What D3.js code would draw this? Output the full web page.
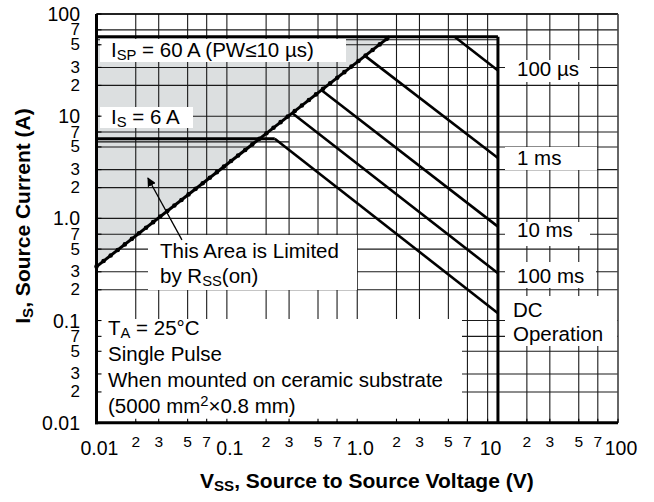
<!DOCTYPE html>
<html lang="en">
<head>
<meta charset="UTF-8">
<title>Safe Operating Area</title>
<script src="https://d3js.org/d3.v7.min.js"></script>
<style>
    body { margin: 0; background: white; }
    svg { display: block; font-family: "Liberation Sans", Arial, sans-serif; }
</style>
</head>
<body>
<script>
    /*------------------- data -------------------*/
    const decades = [0.01, 0.1, 1, 10];
    const minorSteps = [2, 3, 5, 7];
    const majorValues = [0.01, 0.1, 1, 10, 100];
    const majorLabels = ["0.01", "0.1", "1.0", "10", "100"];

    // limit lines (V, A)
    const rssLine = [[0.01, 0.337], [1.77, 60]];
    const ispLine = [[0.01, 60], [12, 60]];
    const isLine = [[0.01, 6], [0.233, 6]];
    const dcVertical = [[12, 60], [12, 0.01]];
    const limitedArea = [[0.01, 60], [1.77, 60], [0.01, 0.337]];
    // thin companion lines just under the 60 A / 6 A limits
    const ispShadow = [[0.01, 56], [12, 56]];
    const isShadow = [[0.01, 5.6], [0.3, 5.6]];

    // pulse-width lines
    const pulseNames = ["100 µs", "1 ms", "10 ms", "100 ms", "DC"];
    const pulseStart = [[5.58, 60], [1.16, 38.5], [0.53, 18], [0.32, 10.6], [0.233, 6]];
    const pulseEnd = [[12, 28], [12, 3.9], [12, 0.83], [12, 0.29], [12, 0.118]];

    // arrow from the note to the shaded area
    const arrowTail = [0.0452, 0.615];
    const arrowTip = [0.0248, 2.48];

    /*------------------- scales -------------------*/
    const W = 654, H = 502;
    const plot = { left: 96.5, right: 618, top: 14, bottom: 422.7 };

    const x = d3.scaleLog().domain([0.01, 100]).range([plot.left, plot.right]);
    const y = d3.scaleLog().domain([0.01, 100]).range([plot.bottom, plot.top]);

    const gridValues = [];
    decades.forEach(d => {
        gridValues.push(d);
        minorSteps.forEach(m => gridValues.push(+(d * m).toPrecision(3)));
    });
    gridValues.push(100);

    const line = d3.line().x(d => x(d[0])).y(d => y(d[1]));

    const svg = d3.select("body").append("svg")
        .attr("width", W)
        .attr("height", H);

    svg.append("defs").append("marker")
        .attr("id", "arrow")
        .attr("viewBox", "0 0 10 10")
        .attr("refX", 9).attr("refY", 5)
        .attr("markerWidth", 9).attr("markerHeight", 9)
        .attr("markerUnits", "userSpaceOnUse")
        .attr("orient", "auto")
        .append("path")
        .attr("d", "M0,0 L10,5 L0,10 Z")
        .attr("fill", "black");

    /*------------------- shaded area -------------------*/
    svg.append("path")
        .attr("d", line(limitedArea) + "Z")
        .attr("fill", "#dcdfe0");

    /*------------------- grid -------------------*/
    svg.append("g").selectAll("line")
        .data(gridValues)
        .enter().append("line")
        .attr("x1", d => x(d)).attr("x2", d => x(d))
        .attr("y1", plot.top).attr("y2", plot.bottom)
        .attr("stroke", "#1a1a1a").attr("stroke-width", 1.1);

    svg.append("g").selectAll("line")
        .data(gridValues)
        .enter().append("line")
        .attr("y1", d => y(d)).attr("y2", d => y(d))
        .attr("x1", plot.left).attr("x2", plot.right)
        .attr("stroke", "#1a1a1a").attr("stroke-width", 1.1);

    [ispShadow, isShadow].forEach(s => {
        svg.append("path").attr("d", line(s))
            .attr("fill", "none").attr("stroke", "#111").attr("stroke-width", 1.2);
    });

    /*------------------- white label boxes -------------------*/
    const boxes = [
        [100, 39, 246, 23],    // ISP
        [100, 107, 93, 21],    // IS
        [148, 235, 209, 55],   // This Area ...
        [97, 319, 365, 102],   // TA block
        [505, 60, 85, 22],     // 100 us
        [505, 147, 92, 23],    // 1 ms
        [505, 222, 85, 24],    // 10 ms
        [505, 262, 91, 26],    // 100 ms
        [505, 296, 112, 50]    // DC Operation
    ];
    svg.append("g").selectAll("rect")
        .data(boxes)
        .enter().append("rect")
        .attr("x", d => d[0]).attr("y", d => d[1])
        .attr("width", d => d[2]).attr("height", d => d[3])
        .attr("fill", "white");

    /*------------------- limit lines -------------------*/
    pulseStart.forEach((s, i) => {
        svg.append("path").attr("d", line([s, pulseEnd[i]]))
            .attr("fill", "none").attr("stroke", "black").attr("stroke-width", 2.6);
    });

    [ispLine, isLine, dcVertical].forEach(s => {
        svg.append("path").attr("d", line(s))
            .attr("fill", "none").attr("stroke", "black").attr("stroke-width", 3);
    });

    svg.append("path").attr("d", line(rssLine))
        .attr("fill", "none").attr("stroke", "black").attr("stroke-width", 3);
    svg.append("path").attr("d", line(rssLine))
        .attr("fill", "none").attr("stroke", "black").attr("stroke-width", 4.6)
        .attr("stroke-linecap", "round").attr("stroke-dasharray", "0 9");

    /*------------------- frame and ticks -------------------*/
    svg.append("line")
        .attr("x1", plot.left).attr("x2", plot.right)
        .attr("y1", plot.top).attr("y2", plot.top)
        .attr("stroke", "black").attr("stroke-width", 1.4);
    svg.append("line")
        .attr("x1", plot.right).attr("x2", plot.right)
        .attr("y1", plot.top).attr("y2", plot.bottom)
        .attr("stroke", "#555").attr("stroke-width", 1.2);

    svg.append("g").selectAll("line")
        .data(gridValues)
        .enter().append("line")
        .attr("x1", plot.left).attr("x2", plot.left + 5)
        .attr("y1", d => y(d)).attr("y2", d => y(d))
        .attr("stroke", "black").attr("stroke-width", 1.1);
    svg.append("g").selectAll("line")
        .data(gridValues)
        .enter().append("line")
        .attr("x1", d => x(d)).attr("x2", d => x(d))
        .attr("y1", plot.bottom).attr("y2", plot.bottom - 4)
        .attr("stroke", "black").attr("stroke-width", 1.1);

    svg.append("line")
        .attr("x1", plot.left).attr("x2", plot.left)
        .attr("y1", plot.top).attr("y2", plot.bottom + 1.5)
        .attr("stroke", "black").attr("stroke-width", 3);
    svg.append("line")
        .attr("x1", plot.left - 1.5).attr("x2", plot.right)
        .attr("y1", plot.bottom).attr("y2", plot.bottom)
        .attr("stroke", "black").attr("stroke-width", 3);

    /*------------------- tick labels -------------------*/
    const minorValues = gridValues.filter(v => !majorValues.includes(v));
    const leading = d => String(Math.round(d / Math.pow(10, Math.floor(Math.log10(d) + 1e-9))));

    svg.append("g").selectAll("text")
        .data(majorValues)
        .enter().append("text")
        .attr("x", 80).attr("y", d => y(d) + 7)
        .attr("text-anchor", "end")
        .attr("font-size", 19.5)
        .text((d, i) => majorLabels[i]);
    svg.append("g").selectAll("text")
        .data(minorValues)
        .enter().append("text")
        .attr("x", 80).attr("y", d => y(d) + 5.5)
        .attr("text-anchor", "end")
        .attr("font-size", 17)
        .text(leading);

    svg.append("g").selectAll("text")
        .data(majorValues)
        .enter().append("text")
        .attr("x", d => x(d) + 3).attr("y", 455)
        .attr("text-anchor", "middle")
        .attr("font-size", 19.5)
        .text((d, i) => majorLabels[i]);
    svg.append("g").selectAll("text")
        .data(minorValues)
        .enter().append("text")
        .attr("x", d => x(d)).attr("y", 446.5)
        .attr("text-anchor", "middle")
        .attr("font-size", 15.5)
        .text(leading);

    /*------------------- annotations -------------------*/
    function label(px, py, parts, size, weight) {
        const t = svg.append("text")
            .attr("x", px).attr("y", py)
            .attr("font-size", size)
            .attr("font-weight", weight || "normal");
        parts.forEach(p => {
            const s = t.append("tspan").text(p[0]);
            if (p[1] === "sub") s.attr("font-size", size * 0.72).attr("baseline-shift", "-22%");
            if (p[1] === "sup") s.attr("font-size", size * 0.72).attr("baseline-shift", "45%");
        });
        return t;
    }

    const fs = 20.5;
    label(111, 56.5, [["I"], ["SP", "sub"], [" = 60 A (PW≤10 µs)"]], fs);
    label(111, 123.5, [["I"], ["S", "sub"], [" = 6 A"]], fs);
    label(160, 258, [["This Area is Limited"]], fs);
    label(160, 283, [["by R"], ["SS", "sub"], ["(on)"]], fs);

    label(108, 335, [["T"], ["A", "sub"], [" = 25°C"]], fs);
    label(108, 361, [["Single Pulse"]], fs);
    label(108, 387, [["When mounted on ceramic substrate"]], fs);
    label(108, 413, [["(5000 mm"], ["2", "sup"], ["×0.8 mm)"]], fs);

    const rightY = [76, 165, 237, 283];
    pulseNames.slice(0, 4).forEach((n, i) => label(517, rightY[i], [[n]], fs));
    label(513, 317, [["DC"]], fs);
    label(513, 341, [["Operation"]], fs);

    svg.append("line")
        .attr("x1", x(arrowTail[0])).attr("y1", y(arrowTail[1]))
        .attr("x2", x(arrowTip[0])).attr("y2", y(arrowTip[1]))
        .attr("stroke", "black").attr("stroke-width", 1.3)
        .attr("marker-end", "url(#arrow)");

    /*------------------- axis titles -------------------*/
    label(200, 488, [["V"], ["SS", "sub"], [", Source to Source Voltage (V)"]], 21, "bold");
    label(0, 0, [["I"], ["S", "sub"], [", Source Current (A)"]], 21, "bold")
        .attr("text-anchor", "middle")
        .attr("transform", "translate(30,216) rotate(-90)");
</script>
</body>
</html>
